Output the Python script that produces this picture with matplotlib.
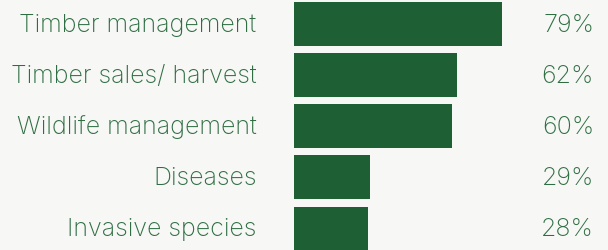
import matplotlib
matplotlib.use("Agg")
import matplotlib.pyplot as plt

categories = ["Timber management", "Timber sales/ harvest", "Wildlife management",
              "Diseases", "Invasive species"]
values = [79, 62, 60, 29, 28]
value_labels = ["79%", "62%", "60%", "29%", "28%"]

BG = "#f7f7f5"
BAR = "#1e5f33"
TEXT = "#2f6e43"


def main():
    fig = plt.figure(figsize=(6.08, 2.51), dpi=100, facecolor=BG)
    ax = fig.add_axes([0, 0, 1, 1])
    ax.set_facecolor(BG)

    ypos = list(range(len(categories)))
    ax.barh(ypos, values, height=0.86, color=BAR, left=0)

    for y, cat, lab in zip(ypos, categories, value_labels):
        ax.text(0.422, y, cat, transform=ax.get_yaxis_transform(),
                ha="right", va="center", color=TEXT, fontsize=18,
                family="Inter", weight="light")
        ax.text(0.977, y, lab, transform=ax.get_yaxis_transform(),
                ha="right", va="center", color=TEXT, fontsize=18,
                family="Inter", weight="light")

    ax.set_xlim(-111.7, 119.3)
    ax.set_ylim(4.42, -0.49)
    ax.axis("off")
    fig.savefig("out.png", dpi=100, facecolor=BG)


if __name__ == "__main__":
    main()
